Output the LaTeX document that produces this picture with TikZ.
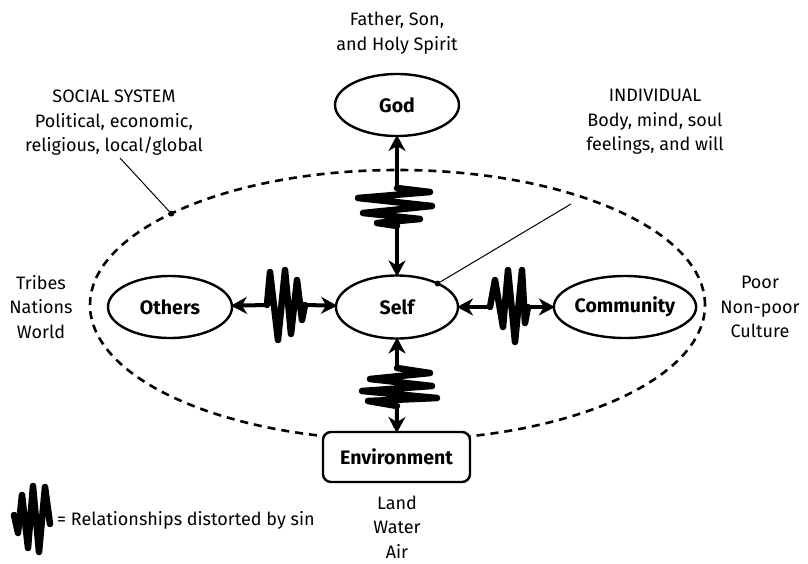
\documentclass[tikz,border=0pt]{standalone}
\usepackage{fontspec}
\setmainfont{Fira Sans}
\usetikzlibrary{arrows.meta,shapes.geometric}
\begin{document}
\begin{tikzpicture}[x=1pt,y=-1pt,
  lbl/.style={font=\fontsize{18}{24.5}\selectfont, align=center, inner sep=0pt},
  ell/.style={draw, ellipse, line width=2.4pt, inner sep=0pt, outer sep=0pt,
              font=\fontsize{19.5}{22}\selectfont\bfseries},
  rel/.style={line width=4pt, -{Stealth[length=16pt,width=17pt,inset=5pt]}, shorten >=-1pt},
  zz/.style={line width=6.5pt, line join=round, line cap=round},
  leader/.style={line width=1pt},
  dot/.style={circle, fill, inner sep=0pt, minimum size=6pt}
]
\useasboundingbox (0,0) rectangle (808,563);

% social system dashed ellipse
\node[draw, ellipse, dash pattern=on 8pt off 6pt, line width=2.6pt,
      minimum width=615pt, minimum height=270pt, inner sep=0pt, outer sep=0pt] (sys) at (397.5,305) {};

% main nodes
\node[ell, minimum width=124pt, minimum height=62pt] (god) at (397,105) {God};
\node[ell, minimum width=122pt, minimum height=63pt] (self) at (397,307) {Self};
\node[ell, minimum width=124pt, minimum height=62pt] (others) at (170,307) {Others};
\node[ell, minimum width=127pt, minimum height=62pt] (comm) at (625,307) {Community};
\node[draw, fill=white, line width=2.4pt, rounded corners=8pt, minimum width=147pt, minimum height=50pt,
      inner sep=0pt, outer sep=0pt, font=\fontsize{19.5}{22}\selectfont\bfseries] (env) at (396.5,457) {Environment};

% zigzag coordinates
\coordinate (g1) at (397,188); \coordinate (g2) at (397,226);
\coordinate (e1) at (397,368); \coordinate (e2) at (397,406);
\coordinate (o1) at (267,305); \coordinate (o2) at (305,305);
\coordinate (c1) at (490,307); \coordinate (c2) at (528,307);

% God - Self
\draw[rel] (g1) -- (god);
\draw[rel] (g2) -- (self);
\draw[zz] (g1) -- (430,192) -- (358,198) -- (432,206) -- (363,213) -- (420,219) -- (377,223) -- (g2);

% Self - Environment
\draw[rel] (e1) -- (self);
\draw[rel] (e2) -- (env);
\draw[zz] (e1) -- (430,373) -- (370,379) -- (432,386) -- (362,391) -- (437,398) -- (368,401) -- (e2);

% Others - Self
\draw[rel] (o1) -- (others);
\draw[rel] (o2) -- (self);
\draw[zz] (o1) -- (270,272) -- (278,340) -- (285,270) -- (291,334) -- (297,280) -- (302,320) -- (o2);

% Self - Community
\draw[rel] (c1) -- (self);
\draw[rel] (c2) -- (comm);
\draw[zz] (c1) -- (495,280) -- (503,327) -- (508,270) -- (515,342) -- (522,270) -- (525,323) -- (c2);

% leaders
\coordinate (sl) at (120,158);
\coordinate (il) at (571,204);
\node[dot] (sd) at (sys.158) {};
\node[dot] (id) at (self.30) {};
\draw[leader] (sl) -- (sd);
\draw[leader] (il) -- (id);

% texts
\node[lbl] (t1) at (397,33) {Father, Son,\\and Holy Spirit};
\node[lbl] (t2) at (114,123) {SOCIAL SYSTEM\\Political, economic,\\religious, local/global};
\node[lbl] (t3) at (655,122) {INDIVIDUAL\\Body, mind, soul\\feelings, and will};
\node[lbl] (t4) at (41,307) {Tribes\\Nations\\World};
\node[lbl] (t5) at (760,307) {Poor\\Non-poor\\Culture};
\node[lbl] (t6) at (397,527) {Land\\Water\\Air};

% legend
\draw[zz] (14,515) -- (18,533) -- (22,495) -- (28,548) -- (33,486) -- (39,552) -- (45,487) -- (50,524);
\node[lbl, anchor=west] (leg) at (57,520) {= Relationships distorted by sin};
\end{tikzpicture}
\end{document}
